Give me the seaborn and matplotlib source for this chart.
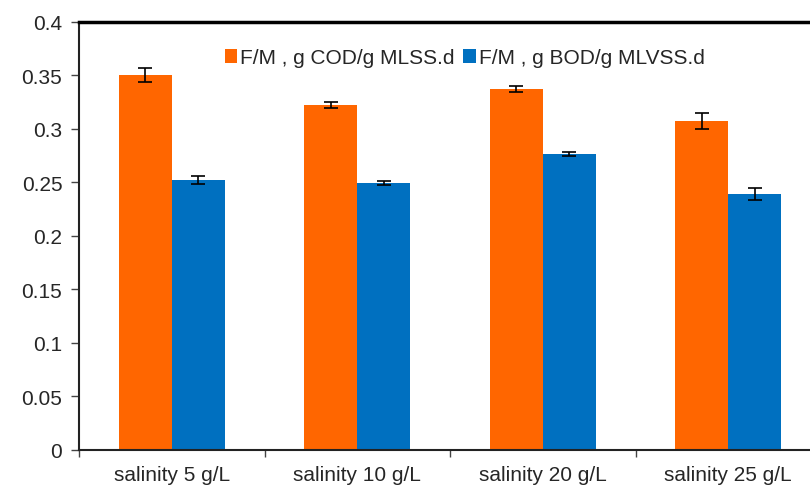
import numpy as np
import pandas as pd
import matplotlib
matplotlib.use("Agg")
import matplotlib.pyplot as plt
import seaborn as sns

# data
categories = ["salinity 5 g/L", "salinity 10 g/L", "salinity 20 g/L", "salinity 25 g/L"]
series = ["F/M , g COD/g MLSS.d", "F/M , g BOD/g MLVSS.d"]
cod_values = [0.350, 0.322, 0.337, 0.307]
cod_errors = [0.0065, 0.003, 0.0025, 0.0075]
bod_values = [0.252, 0.249, 0.276, 0.239]
bod_errors = [0.004, 0.002, 0.002, 0.006]
colors = ["#FF6600", "#0070C0"]

df = pd.DataFrame({
    "cat": categories * 2,
    "serie": [series[0]] * 4 + [series[1]] * 4,
    "val": cod_values + bod_values,
})

sns.set_style("white")
plt.rcParams["font.family"] = ["Liberation Sans", "DejaVu Sans"]

fig = plt.figure(figsize=(8.1, 4.89), dpi=100)
ax = fig.add_axes([79 / 810, 38 / 489, 742 / 810, 428.5 / 489])

sns.barplot(data=df, x="cat", y="val", hue="serie", palette=colors,
            width=0.57, errorbar=None, saturation=1, ax=ax, linewidth=0)

# error bars on top of the seaborn bars
for cont, errs in zip(ax.containers, [cod_errors, bod_errors]):
    xs = [p.get_x() + p.get_width() / 2 for p in cont.patches]
    ys = [p.get_height() for p in cont.patches]
    ax.errorbar(xs, ys, yerr=errs, fmt="none", ecolor="black",
                elinewidth=1.2, capsize=5, capthick=1.2)

ax.set_ylim(0, 0.4)
ax.set_xlim(-0.5, 3.5)
ax.set_yticks(np.arange(0, 0.401, 0.05))
ax.set_yticklabels(["0", "0.05", "0.1", "0.15", "0.2", "0.25", "0.3", "0.35", "0.4"])
ax.set_xlabel("")
ax.set_ylabel("")

# excel style ticks between categories
ax.set_xticks([-0.5, 0.5, 1.5, 2.5, 3.5], minor=True)
ax.tick_params(axis="x", which="major", length=0, labelsize=15, pad=11)
ax.tick_params(axis="x", which="minor", length=5, width=1, color="#444444", direction="out")
ax.tick_params(axis="y", length=6, width=1, color="#444444", direction="out", labelsize=15, pad=6)
ax.yaxis.set_ticks_position("left")
ax.xaxis.set_ticks_position("bottom")

for s in ["left", "bottom"]:
    ax.spines[s].set_color("#222222")
    ax.spines[s].set_linewidth(1.5)
ax.spines["top"].set_color("black")
ax.spines["top"].set_linewidth(2.5)
ax.spines["right"].set_color("black")
ax.spines["right"].set_linewidth(2.5)

ax.legend(loc="center", bbox_to_anchor=(0.52, 0.915), ncol=2, frameon=False,
          fontsize=15, handlelength=0.6, handleheight=0.7, handletextpad=0.15,
          columnspacing=0.4, borderaxespad=0)

fig.savefig("out.png", dpi=100)
